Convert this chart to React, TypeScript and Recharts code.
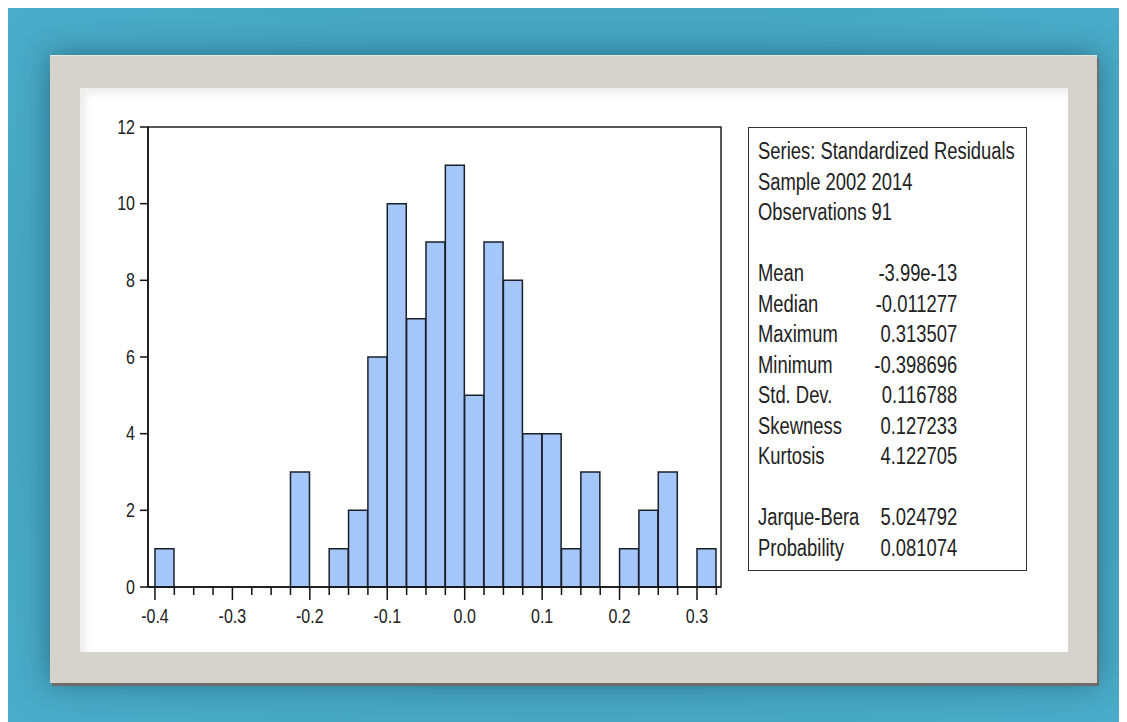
import { Bar, ComposedChart, ReferenceArea, XAxis, YAxis } from "recharts";

// histogram bins (left edge of each bin, width 0.025)
const binStarts = [
  -0.4, -0.375, -0.35, -0.325, -0.3, -0.275, -0.25, -0.225, -0.2, -0.175,
  -0.15, -0.125, -0.1, -0.075, -0.05, -0.025, 0, 0.025, 0.05, 0.075, 0.1,
  0.125, 0.15, 0.175, 0.2, 0.225, 0.25, 0.275, 0.3,
];
const counts = [
  1, 0, 0, 0, 0, 0, 0, 3, 0, 1, 2, 6, 10, 7, 9, 11, 5, 9, 8, 4, 4, 1, 3, 0, 1,
  2, 3, 0, 1,
];
const binWidth = 0.025;

const xTicks = [
  -0.4, -0.375, -0.35, -0.325, -0.3, -0.275, -0.25, -0.225, -0.2, -0.175,
  -0.15, -0.125, -0.1, -0.075, -0.05, -0.025, 0, 0.025, 0.05, 0.075, 0.1,
  0.125, 0.15, 0.175, 0.2, 0.225, 0.25, 0.275, 0.3, 0.325,
];
const yTicks = [0, 2, 4, 6, 8, 10, 12];

const headerLines = [
  "Series: Standardized Residuals",
  "Sample 2002 2014",
  "Observations 91",
];
const statLabels = ["Mean", "Median", "Maximum", "Minimum", "Std. Dev.", "Skewness", "Kurtosis"];
const statValues = ["-3.99e-13", "-0.011277", "0.313507", "-0.398696", "0.116788", "0.127233", "4.122705"];
const testLabels = ["Jarque-Bera", "Probability"];
const testValues = ["5.024792", "0.081074"];

const data = binStarts.map((s, i) => ({ mid: s + binWidth / 2, count: counts[i] }));

// no narrow font installed, so squeeze Liberation Sans horizontally
const FONT = "'Liberation Sans', Arial, sans-serif";
const SQUEEZE = 0.8;
const INK = "#222";

function XTick(props: any) {
  const { x, y, payload } = props;
  const v: number = payload.value;
  const major = Math.abs(v * 10 - Math.round(v * 10)) < 1e-6;
  return (
    <g>
      <line x1={x} x2={x} y1={y} y2={y + (major ? 13 : 8)} stroke="#111" strokeWidth={1.5} />
      {major && (
        <text
          transform={`translate(${x},${y + 29}) scale(${SQUEEZE},1)`}
          textAnchor="middle"
          dominantBaseline="central"
          fontSize={20}
          fontFamily={FONT}
          fill={INK}
        >
          {v.toFixed(1)}
        </text>
      )}
    </g>
  );
}

function YTick(props: any) {
  const { x, y, payload } = props;
  return (
    <text
      transform={`translate(${x},${y}) scale(${SQUEEZE},1)`}
      textAnchor="end"
      dominantBaseline="central"
      fontSize={20}
      fontFamily={FONT}
      fill={INK}
    >
      {payload.value}
    </text>
  );
}

function StatRow({ label, value }: { label: string; value: string }) {
  return (
    <div style={{ position: "relative", height: 30.5, whiteSpace: "nowrap" }}>
      <span>{label}</span>
      <span style={{ position: "absolute", left: 140, width: 109, textAlign: "right" }}>{value}</span>
    </div>
  );
}

export default function App() {
  return (
    <div
      style={{
        position: "relative",
        width: 1119,
        height: 714,
        background: "radial-gradient(ellipse at center, #3f9cb8 0%, #47a7c3 70%, #4aacc8 100%)",
        overflow: "hidden",
      }}
    >
      <div
        style={{
          position: "absolute",
          left: 42,
          top: 47,
          width: 1047,
          height: 628,
          background: "#d6d3cc",
          borderTop: "1px solid #e8e6e1",
          boxSizing: "border-box",
          boxShadow: "2px 3px 0 #6f6d6a, 0 0 28px rgba(0,40,60,0.45)",
        }}
      >
        <div
          style={{
            position: "absolute",
            left: 30,
            top: 32,
            width: 988,
            height: 564,
            background: "#ffffff",
            boxSizing: "border-box",
            borderTop: "2px solid #efefed",
            borderLeft: "2px solid #efefed",
            boxShadow: "inset 4px 4px 6px rgba(0,0,0,0.07)",
          }}
        />
      </div>

      <div style={{ position: "absolute", left: 92, top: 102 }}>
        <ComposedChart
          width={640}
          height={520}
          data={data}
          barCategoryGap={0}
          barGap={0}
          margin={{ top: 17, right: 19, left: 0, bottom: 0 }}
        >
          <ReferenceArea
            x1={-0.409}
            x2={0.331}
            y1={0}
            y2={12}
            fill="none"
            stroke="#222"
            strokeWidth={1.5}
            ifOverflow="visible"
          />
          <XAxis
            dataKey="mid"
            type="number"
            domain={[-0.409, 0.331]}
            allowDataOverflow
            ticks={xTicks}
            interval={0}
            height={43}
            tickSize={0}
            tickMargin={0}
            tickLine={false}
            axisLine={{ stroke: "#111", strokeWidth: 1.5 }}
            tick={<XTick />}
          />
          <YAxis
            type="number"
            domain={[0, 12]}
            ticks={yTicks}
            interval={0}
            width={48}
            tickSize={8}
            tickMargin={5}
            tickLine={{ stroke: "#111", strokeWidth: 1.5 }}
            axisLine={{ stroke: "#111", strokeWidth: 1.5 }}
            tick={<YTick />}
          />
          <Bar dataKey="count" fill="#a5c6f8" stroke="#1a1f2a" strokeWidth={1.5} isAnimationActive={false} />
        </ComposedChart>
      </div>

      <div
        style={{
          position: "absolute",
          left: 740,
          top: 119,
          width: 279,
          height: 444,
          boxSizing: "border-box",
          border: "1.5px solid #333",
          background: "#fff",
        }}
      >
        <div
          style={{
            position: "absolute",
            left: 9,
            top: 8,
            width: 320,
            transform: `scaleX(${SQUEEZE})`,
            transformOrigin: "left top",
            fontFamily: FONT,
            fontSize: 23,
            lineHeight: "30.5px",
            color: INK,
          }}
        >
          {headerLines.map((t) => (
            <div key={t} style={{ height: 30.5, whiteSpace: "nowrap" }}>{t}</div>
          ))}
          <div style={{ height: 30.5 }} />
          {statLabels.map((l, i) => (
            <StatRow key={l} label={l} value={statValues[i]} />
          ))}
          <div style={{ height: 30.5 }} />
          {testLabels.map((l, i) => (
            <StatRow key={l} label={l} value={testValues[i]} />
          ))}
        </div>
      </div>
    </div>
  );
}
